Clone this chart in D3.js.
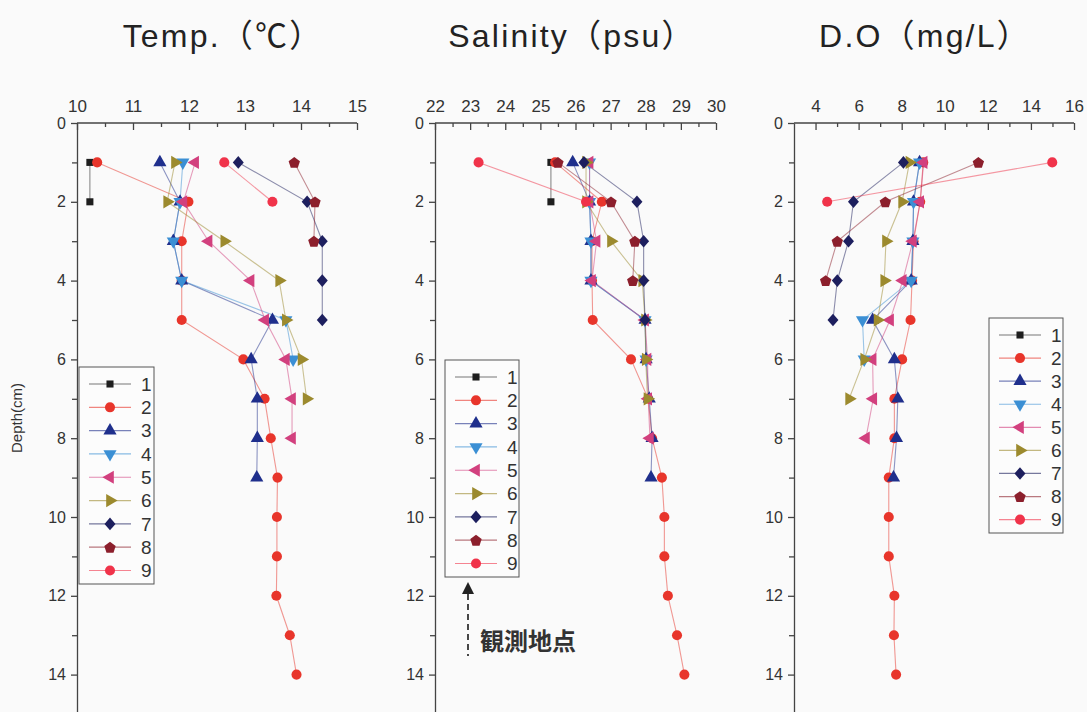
<!DOCTYPE html>
<html>
<head>
<meta charset="utf-8">
<script src="https://cdn.jsdelivr.net/npm/d3@7/dist/d3.min.js"></script>
<style>
  body { margin: 0; background: #fafafa; }
  svg { display: block; }
  text { font-family: "Liberation Sans", Arial, "Noto Sans CJK JP", sans-serif; fill: #333; }
</style>
</head>
<body>
<svg id="chart" width="1087" height="712"></svg>
<script>
// Stations 1–9; every profile starts at 1 cm depth and continues every 1 cm.
const stations = ["1", "2", "3", "4", "5", "6", "7", "8", "9"];
const firstDepth = 1;

// Water temperature (°C) per station, from 1 cm downward
const temp1 = [10.23, 10.23];
const temp2 = [10.36, 11.99, 11.87, 11.87, 11.87, 12.97, 13.35, 13.46, 13.58, 13.57, 13.57, 13.56, 13.80, 13.92];
const temp3 = [11.48, 11.84, 11.72, 11.87, 13.49, 13.11, 13.22, 13.22, 13.21];
const temp4 = [11.89, 11.84, 11.72, 11.87, 13.73, 13.86];
const temp5 = [12.11, 11.90, 12.35, 13.10, 13.36, 13.73, 13.84, 13.84];
const temp6 = [11.75, 11.61, 12.63, 13.61, 13.73, 14.01, 14.10];
const temp7 = [12.88, 14.11, 14.38, 14.38, 14.38];
const temp8 = [13.88, 14.25, 14.23];
const temp9 = [12.63, 13.49];

// Salinity (psu)
const sal1 = [25.30, 25.30];
const sal2 = [25.42, 26.75, 26.47, 26.47, 26.49, 27.58, 28.07, 28.18, 28.46, 28.53, 28.53, 28.63, 28.89, 29.10];
const sal3 = [25.92, 26.40, 26.44, 26.44, 27.98, 28.01, 28.10, 28.18, 28.15];
const sal4 = [26.40, 26.40, 26.44, 26.44, 27.98, 28.01];
const sal5 = [26.40, 26.40, 26.60, 26.47, 27.98, 28.05, 28.07, 28.12];
const sal6 = [26.30, 26.30, 27.01, 27.90, 27.98, 28.00, 28.05];
const sal7 = [26.24, 27.75, 27.94, 27.94, 27.98];
const sal8 = [25.50, 27.01, 27.69, 27.63];
const sal9 = [23.24, 26.30];

// Dissolved oxygen (mg/L)
const do1 = [];
const do2 = [9.00, 8.86, 8.55, 8.48, 8.41, 8.02, 7.66, 7.66, 7.40, 7.40, 7.40, 7.66, 7.64, 7.74];
const do3 = [8.83, 8.55, 8.52, 8.44, 6.65, 7.66, 7.82, 7.76, 7.62];
const do4 = [8.83, 8.55, 8.52, 8.44, 6.18, 6.26];
const do5 = [9.02, 8.86, 8.52, 8.05, 7.46, 6.65, 6.68, 6.34];
const do6 = [8.36, 8.02, 7.27, 7.19, 6.88, 6.26, 5.56];
const do7 = [8.08, 5.76, 5.53, 5.01, 4.81];
const do8 = [11.56, 7.24, 5.01, 4.47];
const do9 = [14.99, 4.54];

// Axis tick values
const tempTicks = [10, 11, 12, 13, 14, 15];
const salTicks = [22, 23, 24, 25, 26, 27, 28, 29, 30];
const doTicks = [4, 6, 8, 10, 12, 14, 16];
const depthTicks = [0, 2, 4, 6, 8, 10, 12, 14];

// Titles and labels
const titles = ["Temp.（℃）", "Salinity（psu）", "D.O（mg/L）"];
const depthLabel = "Depth(cm)";
const noteLabel = "観測地点";

// Marker styling per station
const colors = ["#1e1e1e", "#e8352b", "#1f2f8c", "#3b8fd4", "#d2407e", "#9c8a2e", "#1d1f5e", "#8c1f2c", "#f0334a"];
const shapes = ["square", "circle", "up", "down", "left", "right", "diamond", "pentagon", "circle"];

const symPentagon = {
  draw(ctx, size) {
    const r = Math.sqrt(size / 2.38);
    for (let i = 0; i < 5; i++) {
      const a = -Math.PI / 2 + i * 2 * Math.PI / 5;
      const x = r * Math.cos(a), y = r * Math.sin(a) + r * 0.1;
      if (i === 0) ctx.moveTo(x, y); else ctx.lineTo(x, y);
    }
    ctx.closePath();
  }
};
// rhombus slightly taller than wide
const symRhombus = {
  draw(ctx, size) {
    const w = Math.sqrt(size / 2), h = w * 1.15;
    ctx.moveTo(0, -h); ctx.lineTo(w, 0); ctx.lineTo(0, h); ctx.lineTo(-w, 0); ctx.closePath();
  }
};

function markerPath(shape) {
  switch (shape) {
    case "square": return { d: d3.symbol(d3.symbolSquare, 50)(), rot: 0 };
    case "circle": return { d: d3.symbol(d3.symbolCircle, 80)(), rot: 0 };
    case "up": return { d: d3.symbol(d3.symbolTriangle, 75)(), rot: 0 };
    case "down": return { d: d3.symbol(d3.symbolTriangle, 75)(), rot: 180 };
    case "left": return { d: d3.symbol(d3.symbolTriangle, 75)(), rot: -90 };
    case "right": return { d: d3.symbol(d3.symbolTriangle, 75)(), rot: 90 };
    case "diamond": return { d: d3.symbol(symRhombus, 60)(), rot: 0 };
    case "pentagon": return { d: d3.symbol(symPentagon, 85)(), rot: 0 };
  }
}

const svg = d3.select("#chart");
svg.append("rect").attr("width", 1087).attr("height", 712).attr("fill", "#fafafa");

const yScale = d3.scaleLinear().domain([0, 15]).range([123, 714]);

const panels = [
  { title: titles[0], series: [temp1, temp2, temp3, temp4, temp5, temp6, temp7, temp8, temp9],
    domain: [10, 15], range: [77, 357], major: tempTicks, minor: d3.range(10.5, 15, 1),
    titleX: 223, legend: { x: 79, y: 367, w: 75, h: 217 } },
  { title: titles[1], series: [sal1, sal2, sal3, sal4, sal5, sal6, sal7, sal8, sal9],
    domain: [22, 30], range: [435, 716], major: salTicks, minor: d3.range(22.5, 30, 1),
    titleX: 572, legend: { x: 445, y: 360, w: 74, h: 217 } },
  { title: titles[2], series: [do1, do2, do3, do4, do5, do6, do7, do8, do9],
    domain: [3, 16], range: [794, 1074], major: doTicks, minor: d3.range(5, 16, 2),
    titleX: 925, legend: { x: 989, y: 318, w: 74, h: 215 } }
];

panels.forEach(p => {
  const x = d3.scaleLinear().domain(p.domain).range(p.range);
  const g = svg.append("g");

  // title
  g.append("text").attr("x", p.titleX).attr("y", 47).attr("text-anchor", "middle")
    .style("font-size", "32px").style("letter-spacing", "2.2px").style("fill", "#222").text(p.title);

  // top value axis: major ticks labelled, minor ticks short
  const top = g.append("g").attr("transform", `translate(0,${yScale(0)})`);
  top.call(d3.axisTop(x).tickValues(p.major).tickFormat(d3.format("d"))
    .tickSizeInner(-7).tickSizeOuter(0).tickPadding(11));
  top.append("g").call(d3.axisTop(x).tickValues(p.minor).tickSizeInner(-4).tickSizeOuter(0).tickFormat(""))
    .select(".domain").remove();
  top.select(".domain").attr("d", `M${p.range[0]},0H${p.range[1]}V-0`);
  top.selectAll("text").style("font-size", "17px").style("fill", "#333");

  // depth axis
  const left = g.append("g").attr("transform", `translate(${p.range[0]},0)`);
  left.call(d3.axisLeft(yScale).tickValues(depthTicks).tickSizeInner(6).tickSizeOuter(0).tickPadding(5));
  left.append("g").call(d3.axisLeft(yScale).tickValues(d3.range(1, 15, 2)).tickSizeInner(5).tickSizeOuter(0).tickFormat(""))
    .select(".domain").remove();
  left.selectAll("text").style("font-size", "16px").style("fill", "#333");
  g.selectAll(".domain, .tick line").attr("stroke", "#444").attr("stroke-width", 1.3);

  // profile lines
  const line = d3.line().x(d => x(d.v)).y(d => yScale(d.depth));
  const profiles = p.series.map(vals => vals.map((v, i) => ({ v, depth: firstDepth + i })));
  profiles.forEach((pts, s) => {
    if (pts.length < 2) return;
    g.append("path").datum(pts).attr("d", line).attr("fill", "none")
      .attr("stroke", colors[s]).attr("stroke-opacity", 0.5).attr("stroke-width", 1.1);
  });
  // markers
  profiles.forEach((pts, s) => {
    const m = markerPath(shapes[s]);
    g.selectAll(null).data(pts).enter().append("path")
      .attr("d", m.d)
      .attr("transform", d => `translate(${x(d.v)},${yScale(d.depth)}) rotate(${m.rot})`)
      .attr("fill", colors[s]);
  });

  // legend
  const L = p.legend;
  const lg = g.append("g").attr("transform", `translate(${L.x},${L.y})`);
  lg.append("rect").attr("width", L.w).attr("height", L.h).attr("fill", "#fcfcfc")
    .attr("stroke", "#555").attr("stroke-width", 1);
  const step = (L.h - 20) / 8.45;
  stations.forEach((name, s) => {
    const cy = 17 + s * step;
    const row = lg.append("g").attr("transform", `translate(0,${cy})`);
    row.append("line").attr("x1", 10).attr("x2", 52).attr("stroke", colors[s])
      .attr("stroke-opacity", 0.6).attr("stroke-width", 1.2);
    const m = markerPath(shapes[s]);
    row.append("path").attr("d", m.d).attr("transform", `translate(31,0) rotate(${m.rot})`)
      .attr("fill", colors[s]);
    row.append("text").attr("x", 62).attr("y", 0).attr("dy", "0.36em")
      .style("font-size", "19px").style("fill", "#333").text(name);
  });
});

// y axis caption
svg.append("text").attr("transform", "translate(22,418) rotate(-90)").attr("text-anchor", "middle")
  .style("font-size", "15px").style("fill", "#333").text(depthLabel);

// observation-point note with dashed arrow under the salinity legend
const ax = 468;
svg.append("path").attr("d", `M${ax},582 L${ax - 6},594 L${ax + 6},594 Z`).attr("fill", "#222");
svg.append("line").attr("x1", ax).attr("x2", ax).attr("y1", 594).attr("y2", 656)
  .attr("stroke", "#333").attr("stroke-width", 1.8).attr("stroke-dasharray", "6,4");
svg.append("text").attr("x", 480).attr("y", 650)
  .style("font-family", "'Noto Sans CJK JP', sans-serif").style("font-weight", "bold")
  .style("font-size", "24px").style("fill", "#333").text(noteLabel);
</script>
</body>
</html>
